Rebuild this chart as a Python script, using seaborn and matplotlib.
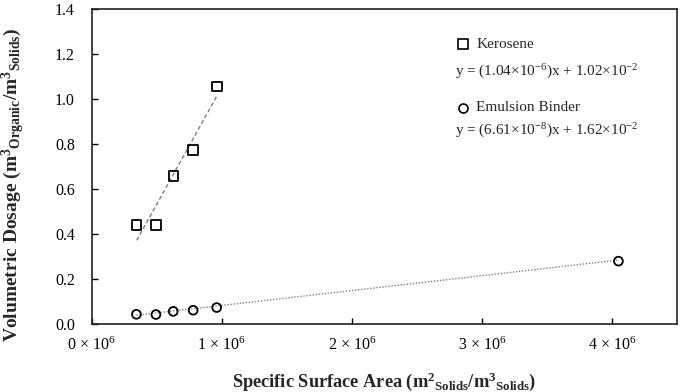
import matplotlib
matplotlib.use("Agg")
import matplotlib.pyplot as plt
import seaborn as sns
import numpy as np
import pandas as pd
from matplotlib.ticker import FixedLocator, FuncFormatter

# ---- data ----
kero_x = [0.347e6, 0.495e6, 0.631e6, 0.781e6, 0.963e6]
kero_y = [0.440, 0.440, 0.656, 0.773, 1.055]
emul_x = [0.345e6, 0.495e6, 0.628e6, 0.781e6, 0.962e6, 4.05e6]
emul_y = [0.043, 0.042, 0.056, 0.061, 0.073, 0.279]
kero_slope, kero_icpt = 1.04e-6, 1.02e-2
emul_slope, emul_icpt = 6.61e-8, 1.62e-2
x_ticks = [0, 1e6, 2e6, 3e6, 4e6]
y_ticks = [0.0, 0.2, 0.4, 0.6, 0.8, 1.0, 1.2, 1.4]
kero_eq = r"y = (1.04×10$^{-6}$)x + 1.02×10$^{-2}$"
emul_eq = r"y = (6.61×10$^{-8}$)x + 1.62×10$^{-2}$"

sns.set_theme(style="white")
plt.rcParams['font.family'] = ['Liberation Serif', 'DejaVu Serif']
plt.rcParams['mathtext.fontset'] = 'custom'
plt.rcParams['mathtext.rm'] = 'Liberation Serif'
plt.rcParams['mathtext.it'] = 'Liberation Serif:italic'
plt.rcParams['mathtext.bf'] = 'Liberation Serif:bold'

fig = plt.figure(figsize=(6.8, 3.92), dpi=100)
ax = fig.add_axes([0.1346, 0.1735, 0.8610, 0.8045])

kdf = pd.DataFrame({"x": kero_x, "y": kero_y})
edf = pd.DataFrame({"x": emul_x, "y": emul_y})

# trend lines
kfx = np.array([min(kero_x), max(kero_x)])
efx = np.array([min(emul_x), max(emul_x)])
ax.plot(kfx, kero_slope * kfx + kero_icpt, color="#808080", lw=1.0,
        dashes=(3, 1.8), zorder=1)
ax.plot(efx, emul_slope * efx + emul_icpt, color="#808080", lw=1.0,
        dashes=(1, 1.2), zorder=1)

sns.scatterplot(data=kdf, x="x", y="y", marker="s", s=48, facecolor="none",
                edgecolor="black", linewidth=1.3, ax=ax, zorder=3)
sns.scatterplot(data=edf, x="x", y="y", marker="o", s=40, facecolor="none",
                edgecolor="black", linewidth=1.3, ax=ax, zorder=3)

ax.set_xlim(0, 4.5e6)
ax.set_ylim(0, 1.4)
ax.xaxis.set_major_locator(FixedLocator(x_ticks))
ax.yaxis.set_major_locator(FixedLocator(y_ticks))
ax.xaxis.set_major_formatter(FuncFormatter(lambda v, p: r"%d × 10$^6$" % round(v / 1e6)))
ax.yaxis.set_major_formatter(FuncFormatter(lambda v, p: "%.1f" % v))
ax.tick_params(axis="both", direction="in", length=4, width=1, colors="black",
               labelsize=11.5, left=True, bottom=True)
ax.tick_params(axis="x", pad=9)
ax.tick_params(axis="y", pad=12)
for s in ax.spines.values():
    s.set_color("#222222")
    s.set_linewidth(1.2)

ax.set_xlabel(r"Specific Surface Area (m$^{\mathbf{2}}$$_{\mathbf{Solids}}$/m$^{\mathbf{3}}$$_{\mathbf{Solids}}$)",
              fontsize=13.2, fontweight="bold", va="center", ha="center")
ax.set_ylabel(r"Volumetric Dosage (m$^{\mathbf{3}}$$_{\mathbf{Organic}}$/m$^{\mathbf{3}}$$_{\mathbf{Solids}}$)",
              fontsize=14, fontweight="bold", va="center", ha="center")
ax.xaxis.set_label_coords(0.5, -0.183)
ax.yaxis.set_label_coords(-0.133, 0.44)

# legend-like annotation
tx = 0.621
ax.plot([0.635], [0.887], marker="s", ms=7, mfc="none", mec="black", mew=1.2,
        transform=ax.transAxes, clip_on=False)
ax.text(0.657, 0.887, "Kerosene", transform=ax.transAxes, fontsize=11,
        va="center", ha="left")
ax.text(tx, 0.800, kero_eq, transform=ax.transAxes, fontsize=11, va="center", ha="left")
ax.plot([0.635], [0.685], marker="o", ms=6.5, mfc="none", mec="black", mew=1.2,
        transform=ax.transAxes, clip_on=False)
ax.text(0.657, 0.685, "Emulsion Binder", transform=ax.transAxes, fontsize=11,
        va="center", ha="left")
ax.text(tx, 0.612, emul_eq, transform=ax.transAxes, fontsize=11, va="center", ha="left")

fig.savefig("out.png", dpi=100)
